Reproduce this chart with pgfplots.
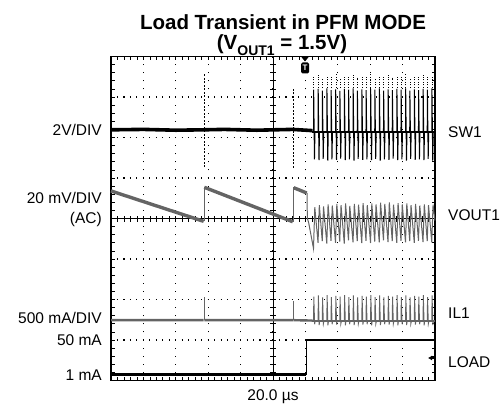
\documentclass[border=0pt]{standalone}
\usepackage{pgfplots}
\pgfplotsset{compat=1.18}
\usepackage{fontspec}
\setmainfont{Liberation Sans}
\usetikzlibrary{arrows.meta}
\definecolor{tg}{RGB}{100,100,100}
\begin{document}
\begin{tikzpicture}
\useasboundingbox (0,0) rectangle (501pt,405pt);
\begin{axis}[
  at={(111pt,24.5pt)}, anchor=south west,
  width=324pt, height=324pt, scale only axis,
  xmin=0, xmax=10, ymin=0, ymax=8,
  xtick={0,...,10}, ytick={0,...,8},
  minor x tick num=4, minor y tick num=4,
  xticklabels={}, yticklabels={},
  tick align=inside, xtick pos=both, ytick pos=both,
  major tick length=3.5pt, minor tick length=3.5pt,
  tick style={black, line width=0.7pt},
  axis line style={line width=1.4pt},
  grid=major,
  major x grid style={black, line width=1.1pt, dash pattern=on 1.1pt off 7pt, dash phase=0.55pt},
  major y grid style={black, line width=1.1pt, dash pattern=on 1.1pt off 5.38pt, dash phase=0.55pt},
  clip=false,
  unbounded coords=jump,
]
% graticule centre lines
\draw[line width=0.9pt] (axis cs:5,0) -- (axis cs:5,8);
\draw[line width=0.9pt] (axis cs:0,4) -- (axis cs:10,4);
\pgfplotsinvokeforeach{0.2,0.4,...,9.8}{\draw[line width=0.7pt] (axis cs:#1,4) ++(0,-3pt) -- ++(0,6pt);}
\pgfplotsinvokeforeach{0.2,0.4,...,7.8}{\draw[line width=0.7pt] (axis cs:5,#1) ++(-3pt,0) -- ++(6pt,0);}

% ---------- SW1 ----------
\addplot[black, line width=3.6pt] coordinates {(0,6.19)(1,6.20)(2,6.18)(2.86,6.19)(3.5,6.20)(4.5,6.18)(5.6,6.20)(6.22,6.17)};
\addplot[black, line width=0.9pt, dash pattern=on 2pt off 1.5pt] coordinates {(2.87,5.27)(2.87,7.59)(2.87,nan)(5.62,5.25)(5.62,7.23)};
\addplot[black, line width=1.8pt] coordinates {(6.20,6.14)(10,6.14)};
\addplot[black, line width=1.0pt] coordinates {(6.20,6.14)
(6.25,6.14)(6.255,7.18)(6.28,5.46)(6.295,6.14)
(6.39,6.14)(6.395,7.20)(6.42,5.44)(6.435,6.14)
(6.52,6.14)(6.525,7.16)(6.55,5.47)(6.565,6.14)
(6.66,6.14)(6.665,7.21)(6.69,5.43)(6.705,6.14)
(6.79,6.14)(6.795,7.17)(6.82,5.46)(6.835,6.14)
(6.93,6.14)(6.935,7.19)(6.96,5.45)(6.975,6.14)
(7.06,6.14)(7.065,7.15)(7.09,5.48)(7.105,6.14)
(7.20,6.14)(7.205,7.20)(7.23,5.44)(7.245,6.14)
(7.33,6.14)(7.335,7.18)(7.36,5.46)(7.375,6.14)
(7.47,6.14)(7.475,7.21)(7.50,5.43)(7.515,6.14)
(7.60,6.14)(7.605,7.16)(7.63,5.47)(7.645,6.14)
(7.74,6.14)(7.745,7.19)(7.77,5.45)(7.785,6.14)
(7.87,6.14)(7.875,7.17)(7.90,5.46)(7.915,6.14)
(8.01,6.14)(8.015,7.20)(8.04,5.44)(8.055,6.14)
(8.14,6.14)(8.145,7.18)(8.17,5.47)(8.185,6.14)
(8.28,6.14)(8.285,7.21)(8.31,5.43)(8.325,6.14)
(8.41,6.14)(8.415,7.16)(8.44,5.46)(8.455,6.14)
(8.55,6.14)(8.555,7.19)(8.58,5.45)(8.595,6.14)
(8.68,6.14)(8.685,7.17)(8.71,5.48)(8.725,6.14)
(8.82,6.14)(8.825,7.20)(8.85,5.44)(8.865,6.14)
(8.95,6.14)(8.955,7.18)(8.98,5.46)(8.995,6.14)
(9.09,6.14)(9.095,7.21)(9.12,5.43)(9.135,6.14)
(9.22,6.14)(9.225,7.16)(9.25,5.47)(9.265,6.14)
(9.36,6.14)(9.365,7.19)(9.39,5.45)(9.405,6.14)
(9.49,6.14)(9.495,7.17)(9.52,5.46)(9.535,6.14)
(9.63,6.14)(9.635,7.20)(9.66,5.44)(9.675,6.14)
(9.76,6.14)(9.765,7.18)(9.79,5.47)(9.805,6.14)
(9.90,6.14)(9.905,7.21)(9.93,5.43)(9.945,6.14)
(10,6.14)};
\addplot[black, line width=0.7pt, dash pattern=on 1pt off 1.6pt] coordinates {
(6.26,7.22)(6.26,7.50)(6.26,nan)(6.40,7.22)(6.40,7.55)(6.40,nan)(6.53,7.22)(6.53,7.47)(6.53,nan)
(6.67,7.22)(6.67,7.53)(6.67,nan)(6.80,7.22)(6.80,7.49)(6.80,nan)(6.94,7.22)(6.94,7.56)(6.94,nan)
(7.07,7.22)(7.07,7.46)(7.07,nan)(7.21,7.22)(7.21,7.54)(7.21,nan)(7.34,7.22)(7.34,7.50)(7.34,nan)
(7.48,7.22)(7.48,7.55)(7.48,nan)(7.61,7.22)(7.61,7.48)(7.61,nan)(7.75,7.22)(7.75,7.53)(7.75,nan)
(7.88,7.22)(7.88,7.51)(7.88,nan)(8.02,7.22)(8.02,7.56)(8.02,nan)(8.15,7.22)(8.15,7.47)(8.15,nan)
(8.29,7.22)(8.29,7.54)(8.29,nan)(8.42,7.22)(8.42,7.50)(8.42,nan)(8.56,7.22)(8.56,7.55)(8.56,nan)
(8.69,7.22)(8.69,7.48)(8.69,nan)(8.83,7.22)(8.83,7.53)(8.83,nan)(8.96,7.22)(8.96,7.51)(8.96,nan)
(9.10,7.22)(9.10,7.56)(9.10,nan)(9.23,7.22)(9.23,7.47)(9.23,nan)(9.37,7.22)(9.37,7.54)(9.37,nan)
(9.50,7.22)(9.50,7.50)(9.50,nan)(9.64,7.22)(9.64,7.55)(9.64,nan)(9.77,7.22)(9.77,7.49)(9.77,nan)
(9.91,7.22)(9.91,7.53)};

% ---------- VOUT1 ----------
\addplot[tg, line width=3.4pt] coordinates {(0,4.68)(2.86,3.93)(2.86,nan)(2.88,4.77)(5.61,3.92)(5.61,nan)(5.64,4.76)(6.04,4.63)};
\addplot[tg, line width=0.8pt] coordinates {(2.87,3.93)(2.87,4.77)(2.87,nan)(5.625,3.92)(5.625,4.77)};
\addplot[tg, line width=1.0pt] coordinates {(6.05,4.63)(6.06,4.0)(6.1,3.9)(6.25,3.26)(6.29,4.28)
(6.39,3.40)(6.43,4.33)(6.52,3.44)(6.56,4.30)(6.66,3.38)(6.70,4.35)(6.79,3.45)(6.83,4.32)
(6.93,3.40)(6.97,4.36)(7.06,3.43)(7.10,4.33)(7.20,3.38)(7.24,4.37)(7.33,3.46)(7.37,4.31)
(7.47,3.41)(7.51,4.36)(7.60,3.44)(7.64,4.34)(7.74,3.39)(7.78,4.38)(7.87,3.45)(7.91,4.33)
(8.01,3.40)(8.05,4.37)(8.14,3.43)(8.18,4.35)(8.28,3.41)(8.32,4.39)(8.41,3.46)(8.45,4.36)
(8.55,3.42)(8.59,4.40)(8.68,3.44)(8.72,4.34)(8.82,3.40)(8.86,4.38)(8.95,3.45)(8.99,4.35)
(9.09,3.41)(9.13,4.37)(9.22,3.44)(9.26,4.33)(9.36,3.40)(9.40,4.36)(9.49,3.45)(9.53,4.32)
(9.63,3.42)(9.67,4.35)(9.76,3.44)(9.80,4.33)(9.90,3.41)(9.94,4.34)(10,3.95)};

% ---------- IL1 ----------
\addplot[tg, line width=2.4pt] coordinates {(0,1.49)(2.86,1.49)(2.86,nan)(2.88,1.49)(5.61,1.49)(5.61,nan)(5.63,1.49)(6.22,1.48)};
\addplot[tg, line width=0.8pt] coordinates {(2.87,1.49)(2.87,2.06)(2.87,nan)(5.62,1.49)(5.62,1.97)};
\addplot[tg, line width=1.8pt] coordinates {(6.20,1.46)(10,1.46)};
\addplot[tg, line width=0.9pt] coordinates {(6.20,1.46)
(6.25,1.46)(6.26,2.07)(6.285,1.39)(6.30,1.46)
(6.39,1.46)(6.40,2.10)(6.425,1.37)(6.44,1.46)
(6.52,1.46)(6.53,2.05)(6.555,1.40)(6.57,1.46)
(6.66,1.46)(6.67,2.11)(6.695,1.36)(6.71,1.46)
(6.79,1.46)(6.80,2.06)(6.825,1.39)(6.84,1.46)
(6.93,1.46)(6.94,2.09)(6.965,1.38)(6.98,1.46)
(7.06,1.46)(7.07,2.07)(7.095,1.40)(7.11,1.46)
(7.20,1.46)(7.21,2.11)(7.235,1.36)(7.25,1.46)
(7.33,1.46)(7.34,2.06)(7.365,1.39)(7.38,1.46)
(7.47,1.46)(7.48,2.10)(7.505,1.37)(7.52,1.46)
(7.60,1.46)(7.61,2.05)(7.635,1.40)(7.65,1.46)
(7.74,1.46)(7.75,2.09)(7.775,1.38)(7.79,1.46)
(7.87,1.46)(7.88,2.07)(7.905,1.39)(7.92,1.46)
(8.01,1.46)(8.02,2.11)(8.045,1.36)(8.06,1.46)
(8.14,1.46)(8.15,2.06)(8.175,1.40)(8.19,1.46)
(8.28,1.46)(8.29,2.10)(8.315,1.37)(8.33,1.46)
(8.41,1.46)(8.42,2.05)(8.445,1.39)(8.46,1.46)
(8.55,1.46)(8.56,2.09)(8.585,1.38)(8.60,1.46)
(8.68,1.46)(8.69,2.07)(8.715,1.40)(8.73,1.46)
(8.82,1.46)(8.83,2.11)(8.855,1.36)(8.87,1.46)
(8.95,1.46)(8.96,2.06)(8.985,1.39)(9.00,1.46)
(9.09,1.46)(9.10,2.10)(9.125,1.37)(9.14,1.46)
(9.22,1.46)(9.23,2.05)(9.255,1.40)(9.27,1.46)
(9.36,1.46)(9.37,2.09)(9.395,1.38)(9.41,1.46)
(9.49,1.46)(9.50,2.07)(9.525,1.39)(9.54,1.46)
(9.63,1.46)(9.64,2.11)(9.665,1.36)(9.68,1.46)
(9.76,1.46)(9.77,2.06)(9.795,1.40)(9.81,1.46)
(9.90,1.46)(9.91,2.10)(9.935,1.37)(9.95,1.46)
(10,1.46)};

% ---------- LOAD ----------
\addplot[black, line width=3pt] coordinates {(0,0.14)(6.03,0.14)};
\addplot[black, line width=0.9pt] coordinates {(6.04,0.14)(6.04,1.0)};
\addplot[black, line width=2.6pt] coordinates {(6.03,1.0)(10,1.0)};
\end{axis}

% trigger marker and ground marker
\fill (301pt,348.5pt) -- (309pt,348.5pt) -- (305pt,343.5pt) -- cycle;
\node[fill=black, text=white, font=\bfseries\fontsize{8}{8}\selectfont, rounded corners=1.5pt, inner sep=0.8pt, minimum width=8pt, minimum height=11pt] at (305pt,337pt) {T};
\draw[line width=1.3pt, -{Latex[length=4pt,width=5pt]}] (435pt,47pt) -- (428pt,47pt);

% title
\node[anchor=base, inner sep=0pt, font=\bfseries\fontsize{20.5}{20.5}\selectfont] at (283pt,375.5pt) {Load Transient in PFM MODE};
\node[anchor=base, inner sep=0pt, font=\bfseries\fontsize{20.5}{20.5}\selectfont] at (282pt,355pt) {(V\raisebox{-5.5pt}{\fontsize{14}{14}\selectfont OUT1} = 1.5V)};

% side and bottom labels
\begin{scope}[every node/.style={font=\fontsize{15.5}{15.5}\selectfont, inner sep=0pt}]
\node[anchor=base east] at (102pt,269.5pt) {2V/DIV};
\node[anchor=base east] at (102pt,201.5pt) {20 mV/DIV};
\node[anchor=base east] at (102pt,181.5pt) {(AC)};
\node[anchor=base east] at (102pt,81.5pt) {500 mA/DIV};
\node[anchor=base east] at (102pt,59.5pt) {50 mA};
\node[anchor=base east] at (102pt,24.5pt) {1 mA};
\node[anchor=base west] at (448pt,267.5pt) {SW1};
\node[anchor=base west] at (448pt,184.5pt) {VOUT1};
\node[anchor=base west] at (448pt,86.5pt) {IL1};
\node[anchor=base west] at (448pt,37.5pt) {LOAD};
\node[anchor=base] at (273pt,4.3pt) {20.0 µs};
\end{scope}
\end{tikzpicture}
\end{document}
